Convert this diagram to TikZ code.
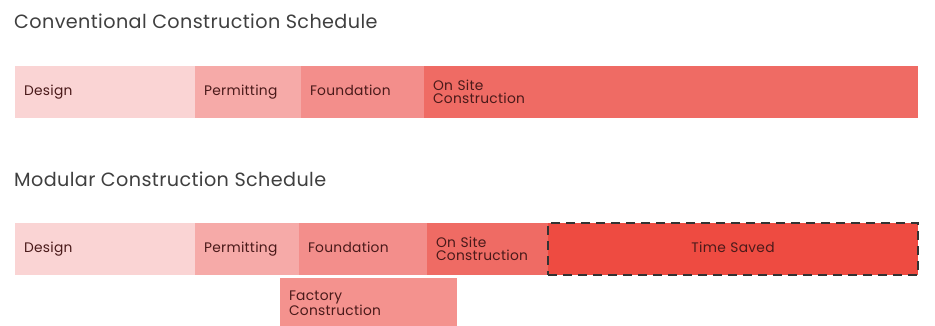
\documentclass[tikz,border=0pt]{standalone}
\usepackage{fontspec}
\setmainfont{Poppins}
\usetikzlibrary{positioning}

\definecolor{designc}{HTML}{FAD4D4}
\definecolor{permitc}{HTML}{F6AAA8}
\definecolor{foundc}{HTML}{F38E8B}
\definecolor{onsitec}{HTML}{EF6B64}
\definecolor{savedc}{HTML}{EE4B41}
\definecolor{factoryc}{HTML}{F4928E}
\definecolor{labelc}{HTML}{4A1A1A}
\definecolor{titlec}{HTML}{3F3F3F}

\tikzset{
  phase/.style={minimum height=52pt, inner ysep=0pt, inner xsep=9pt, outer sep=0pt,
    align=left, text=labelc, font=\fontsize{13.8}{13}\selectfont\addfontfeatures{LetterSpace=2}},
  oneline/.style={text height=10pt, text depth=3pt},
  title/.style={anchor=base west, inner sep=0pt, text=titlec,
    font=\fontsize{19.2}{20}\selectfont\addfontfeatures{LetterSpace=2}}
}

\begin{document}
\begin{tikzpicture}[x=1pt, y=-1pt]
      \useasboundingbox (0,0) rectangle (935,326);

      % Conventional schedule
      \node[title] (ctitle) at (14,29) {Conventional Construction Schedule};
      \node[phase, oneline, fill=designc, text width=162pt, anchor=north west] (cdesign) at (15,66) {Design};
      \node[phase, oneline, fill=permitc, text width=88pt, right=0pt of cdesign] (cpermit) {Permitting};
      \node[phase, oneline, fill=foundc, text width=105pt, right=0pt of cpermit] (cfound) {Foundation};
      \node[phase, fill=onsitec, text width=476pt, right=0pt of cfound] (consite) {On Site\\Construction};

      % Modular schedule
      \node[title] (mtitle) at (14,186) {Modular Construction Schedule};
      \node[phase, oneline, fill=designc, text width=162pt, anchor=north west] (mdesign) at (15,223) {Design};
      \node[phase, oneline, fill=permitc, text width=86pt, right=0pt of mdesign] (mpermit) {Permitting};
      \node[phase, oneline, fill=foundc, text width=110pt, right=0pt of mpermit] (mfound) {Foundation};
      \node[phase, fill=onsitec, text width=103pt, right=0pt of mfound] (monsite) {On Site\\Construction};
      \node[phase, oneline, fill=savedc, text width=352pt, align=center, right=0pt of monsite,
            draw=black!80, line width=2.5pt, dash pattern=on 9pt off 6pt] (msaved) {Time Saved};
      \node[phase, fill=factoryc, text width=159pt, minimum height=50pt, anchor=north west] (mfactory) at (280,278) {Factory\\Construction};
\end{tikzpicture}
\end{document}
